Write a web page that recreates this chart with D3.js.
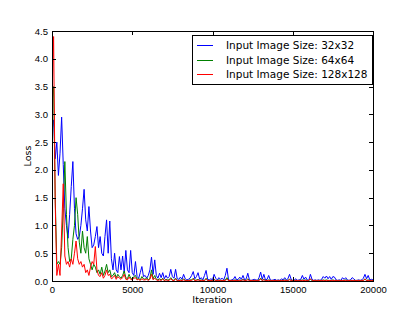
<!DOCTYPE html>
<html>
<head>
<meta charset="utf-8">
<script src="https://cdn.jsdelivr.net/npm/d3@7"></script>
<style>
  body { margin: 0; background: #fff; }
  svg { display: block; font-family: "DejaVu Sans", sans-serif; }
  .axis text { font-size: 9.5px; fill: #000; }
  .axis line { stroke: #000; shape-rendering: crispEdges; }
</style>
</head>
<body>
<svg id="chart" width="415" height="312"></svg>
<script>
// logged every 100 iterations
const iterations = d3.range(0, 20001, 100);

const loss32 = [2.7, 2.9, 2.2, 2.5, 1.9, 2.3, 2.95, 2.1, 1.3, 1.0, 0.77, 1.2, 1.7, 2.15, 1.3, 0.85, 0.75, 0.8, 1.0, 1.3,
  1.65, 1.1, 0.9, 1.34, 0.9, 0.6, 0.65, 0.8, 0.98, 0.6, 0.8, 0.5, 0.45, 0.8, 1.1, 0.5, 1.08, 0.4, 0.2, 0.5,
  0.2, 0.15, 0.44, 0.2, 0.45, 0.15, 0.55, 0.2, 0.15, 0.55, 0.15, 0.1, 0.35, 0.08, 0.05, 0.15, 0.26, 0.08, 0.1, 0.05,
  0.1, 0.2, 0.43, 0.12, 0.38, 0.1, 0.05, 0.14, 0.06, 0.15, 0.04, 0.1, 0.05, 0.08, 0.21, 0.08, 0.05, 0.21, 0.04, 0.03,
  0.07, 0.03, 0.12, 0.04, 0.02, 0.03, 0.05, 0.1, 0.17, 0.04, 0.08, 0.15, 0.03, 0.06, 0.02, 0.1, 0.19, 0.03, 0.02, 0.04,
  0.02, 0.12, 0.05, 0.02, 0.06, 0.03, 0.05, 0.02, 0.1, 0.23, 0.02, 0.01, 0.02, 0.03, 0.08, 0.02, 0.03, 0.07, 0.03, 0.1,
  0.02, 0.04, 0.14, 0.02, 0.01, 0.02, 0.03, 0.02, 0.01, 0.06, 0.16, 0.03, 0.12, 0.02, 0.03, 0.1, 0.02, 0.01, 0.02, 0.03,
  0.01, 0.02, 0.01, 0.04, 0.02, 0.06, 0.02, 0.04, 0.12, 0.03, 0.01, 0.02, 0.04, 0.01, 0.02, 0.03, 0.1, 0.03, 0.07, 0.02,
  0.01, 0.12, 0.03, 0.01, 0.02, 0.01, 0.02, 0.01, 0.03, 0.08, 0.05, 0.09, 0.04, 0.08, 0.03, 0.08, 0.07, 0.02, 0.01, 0.02,
  0.01, 0.06, 0.03, 0.06, 0.02, 0.01, 0.02, 0.06, 0.04, 0.01, 0.01, 0.02, 0.01, 0.02, 0.05, 0.12, 0.04, 0.1, 0.02, 0.03,
  0.02];

const loss64 = [3.2, 3.5, 1.5, 0.3, 0.35, 0.3, 0.6, 1.3, 2.15, 1.2, 0.6, 0.35, 0.4, 0.75, 1.0, 1.5, 1.2, 0.7, 0.5, 0.9,
  0.6, 0.5, 0.8, 0.4, 0.3, 0.2, 0.3, 0.25, 0.15, 0.2, 0.12, 0.25, 0.1, 0.18, 0.3, 0.15, 0.2, 0.08, 0.1, 0.15,
  0.06, 0.12, 0.08, 0.05, 0.1, 0.18, 0.06, 0.04, 0.12, 0.05, 0.03, 0.08, 0.1, 0.03, 0.05, 0.02, 0.08, 0.04, 0.03, 0.06,
  0.02, 0.05, 0.2, 0.04, 0.1, 0.03, 0.02, 0.04, 0.02, 0.05, 0.01, 0.03, 0.02, 0.02, 0.06, 0.02, 0.01, 0.05, 0.01, 0.01,
  0.02, 0.01, 0.04, 0.01, 0.01, 0.01, 0.02, 0.02, 0.05, 0.01, 0.02, 0.03, 0.01, 0.02, 0.01, 0.01, 0.05, 0.01, 0.01, 0.01,
  0.01, 0.03, 0.01, 0.01, 0.02, 0.01, 0.01, 0.01, 0.02, 0.06, 0.01, 0.01, 0.01, 0.01, 0.02, 0.01, 0.01, 0.02, 0.01, 0.03,
  0.01, 0.01, 0.04, 0.01, 0.01, 0.01, 0.01, 0.01, 0.01, 0.02, 0.05, 0.01, 0.03, 0.01, 0.01, 0.02, 0.01, 0.01, 0.01, 0.01,
  0.01, 0.01, 0.01, 0.01, 0.01, 0.02, 0.01, 0.01, 0.03, 0.01, 0.01, 0.01, 0.01, 0.01, 0.01, 0.01, 0.02, 0.01, 0.02, 0.01,
  0.01, 0.03, 0.01, 0.01, 0.01, 0.01, 0.01, 0.01, 0.01, 0.02, 0.01, 0.02, 0.01, 0.01, 0.01, 0.02, 0.01, 0.01, 0.01, 0.01,
  0.01, 0.01, 0.01, 0.02, 0.01, 0.01, 0.01, 0.01, 0.01, 0.01, 0.01, 0.01, 0.01, 0.01, 0.01, 0.04, 0.01, 0.02, 0.01, 0.01,
  0.01];

const loss128 = [3.3, 4.4, 1.4, 0.1, 0.3, 0.1, 0.9, 1.75, 0.45, 0.3, 0.35, 0.25, 0.4, 0.3, 0.5, 0.72, 0.4, 0.3, 0.35, 0.25,
  0.3, 0.15, 0.2, 0.1, 0.25, 0.35, 0.3, 0.62, 0.2, 0.1, 0.08, 0.15, 0.05, 0.1, 0.2, 0.1, 0.12, 0.04, 0.06, 0.1,
  0.03, 0.08, 0.05, 0.03, 0.06, 0.12, 0.03, 0.02, 0.07, 0.03, 0.02, 0.05, 0.06, 0.02, 0.03, 0.01, 0.04, 0.02, 0.02, 0.03,
  0.01, 0.03, 0.12, 0.02, 0.05, 0.02, 0.01, 0.02, 0.01, 0.03, 0.01, 0.02, 0.01, 0.01, 0.04, 0.01, 0.01, 0.03, 0.01, 0.01,
  0.01, 0.01, 0.02, 0.01, 0.01, 0.01, 0.01, 0.01, 0.03, 0.01, 0.01, 0.02, 0.01, 0.01, 0.01, 0.01, 0.03, 0.01, 0.01, 0.01,
  0.01, 0.02, 0.01, 0.01, 0.01, 0.01, 0.01, 0.01, 0.01, 0.03, 0.01, 0.01, 0.01, 0.01, 0.01, 0.01, 0.01, 0.01, 0.01, 0.02,
  0.01, 0.01, 0.02, 0.01, 0.01, 0.01, 0.01, 0.01, 0.01, 0.01, 0.03, 0.01, 0.02, 0.01, 0.01, 0.01, 0.01, 0.01, 0.01, 0.01,
  0.01, 0.01, 0.01, 0.01, 0.01, 0.01, 0.01, 0.01, 0.02, 0.01, 0.01, 0.01, 0.01, 0.01, 0.01, 0.01, 0.01, 0.01, 0.01, 0.01,
  0.01, 0.04, 0.01, 0.01, 0.01, 0.01, 0.01, 0.01, 0.01, 0.01, 0.01, 0.01, 0.01, 0.01, 0.01, 0.01, 0.01, 0.01, 0.01, 0.01,
  0.01, 0.01, 0.01, 0.01, 0.01, 0.01, 0.01, 0.01, 0.01, 0.01, 0.01, 0.01, 0.01, 0.01, 0.01, 0.03, 0.01, 0.01, 0.01, 0.01,
  0.01];

const seriesNames = ["Input Image Size: 32x32", "Input Image Size: 64x64", "Input Image Size: 128x128"];
const seriesColors = ["#0000ff", "#008000", "#ff0000"];
const xTicks = [0, 5000, 10000, 15000, 20000];
const yTicks = [0, 0.5, 1.0, 1.5, 2.0, 2.5, 3.0, 3.5, 4.0, 4.5];

const margin = { top: 31, right: 42, bottom: 31, left: 52 };
const svg = d3.select("#chart");
const width = +svg.attr("width");
const height = +svg.attr("height");
const plotWidth = width - margin.left - margin.right;
const plotHeight = height - margin.top - margin.bottom;

const x = d3.scaleLinear().domain([0, 20000]).range([0, plotWidth]);
const y = d3.scaleLinear().domain([0, 4.5]).range([plotHeight, 0]);

const plot = svg.append("g")
  .attr("transform", "translate(" + margin.left + "," + margin.top + ")");

plot.append("clipPath").attr("id", "clip")
  .append("rect").attr("width", plotWidth).attr("height", plotHeight);

const series = [loss32, loss64, loss128];
const line = d3.line()
  .x(function(d, i) { return x(iterations[i]); })
  .y(function(d) { return y(d); });

plot.append("g").attr("clip-path", "url(#clip)")
  .selectAll("path")
  .data(series)
  .enter().append("path")
  .attr("d", line)
  .attr("fill", "none")
  .attr("stroke", function(d, i) { return seriesColors[i]; })
  .attr("stroke-width", 1);

// inward ticks on all four sides, matplotlib classic look
plot.append("g").attr("class", "axis")
  .attr("transform", "translate(0," + plotHeight + ")")
  .call(d3.axisBottom(x).tickValues(xTicks).tickSizeInner(-4).tickSizeOuter(0).tickPadding(5).tickFormat(d3.format("d")))
  .call(function(g) { g.select(".domain").remove(); });
plot.append("g").attr("class", "axis")
  .call(d3.axisTop(x).tickValues(xTicks).tickSizeInner(-4).tickSizeOuter(0).tickFormat(""))
  .call(function(g) { g.select(".domain").remove(); });
plot.append("g").attr("class", "axis")
  .call(d3.axisLeft(y).tickValues(yTicks).tickSizeInner(-4).tickSizeOuter(0).tickPadding(4).tickFormat(d3.format(".1f")))
  .call(function(g) { g.select(".domain").remove(); });
plot.append("g").attr("class", "axis")
  .attr("transform", "translate(" + plotWidth + ",0)")
  .call(d3.axisRight(y).tickValues(yTicks).tickSizeInner(-4).tickSizeOuter(0).tickFormat(""))
  .call(function(g) { g.select(".domain").remove(); });

plot.append("rect")
  .attr("width", plotWidth).attr("height", plotHeight)
  .attr("fill", "none").attr("stroke", "#000").attr("stroke-width", 1)
  .attr("shape-rendering", "crispEdges");

svg.append("text")
  .attr("x", margin.left + plotWidth / 2).attr("y", 303)
  .attr("text-anchor", "middle").attr("font-size", 9.5)
  .text("Iteration");

svg.append("text")
  .attr("transform", "translate(31," + (margin.top + plotHeight / 2) + ") rotate(-90)")
  .attr("text-anchor", "middle").attr("font-size", 9.5)
  .text("Loss");

// legend
const legend = svg.append("g").attr("transform", "translate(192,35)");
legend.append("rect")
  .attr("width", 180).attr("height", 49)
  .attr("fill", "#fff").attr("stroke", "#000").attr("stroke-width", 1)
  .attr("shape-rendering", "crispEdges");

const item = legend.selectAll(".item")
  .data(seriesNames)
  .enter().append("g")
  .attr("class", "item")
  .attr("transform", function(d, i) { return "translate(0," + (10.5 + i * 14.5) + ")"; });
item.append("line")
  .attr("x1", 5).attr("x2", 21)
  .attr("stroke", function(d, i) { return seriesColors[i]; })
  .attr("stroke-width", 1)
  .attr("shape-rendering", "crispEdges");
item.append("text")
  .attr("x", 34).attr("dy", "0.35em")
  .attr("font-size", 10.5)
  .text(function(d) { return d; });
</script>
</body>
</html>
